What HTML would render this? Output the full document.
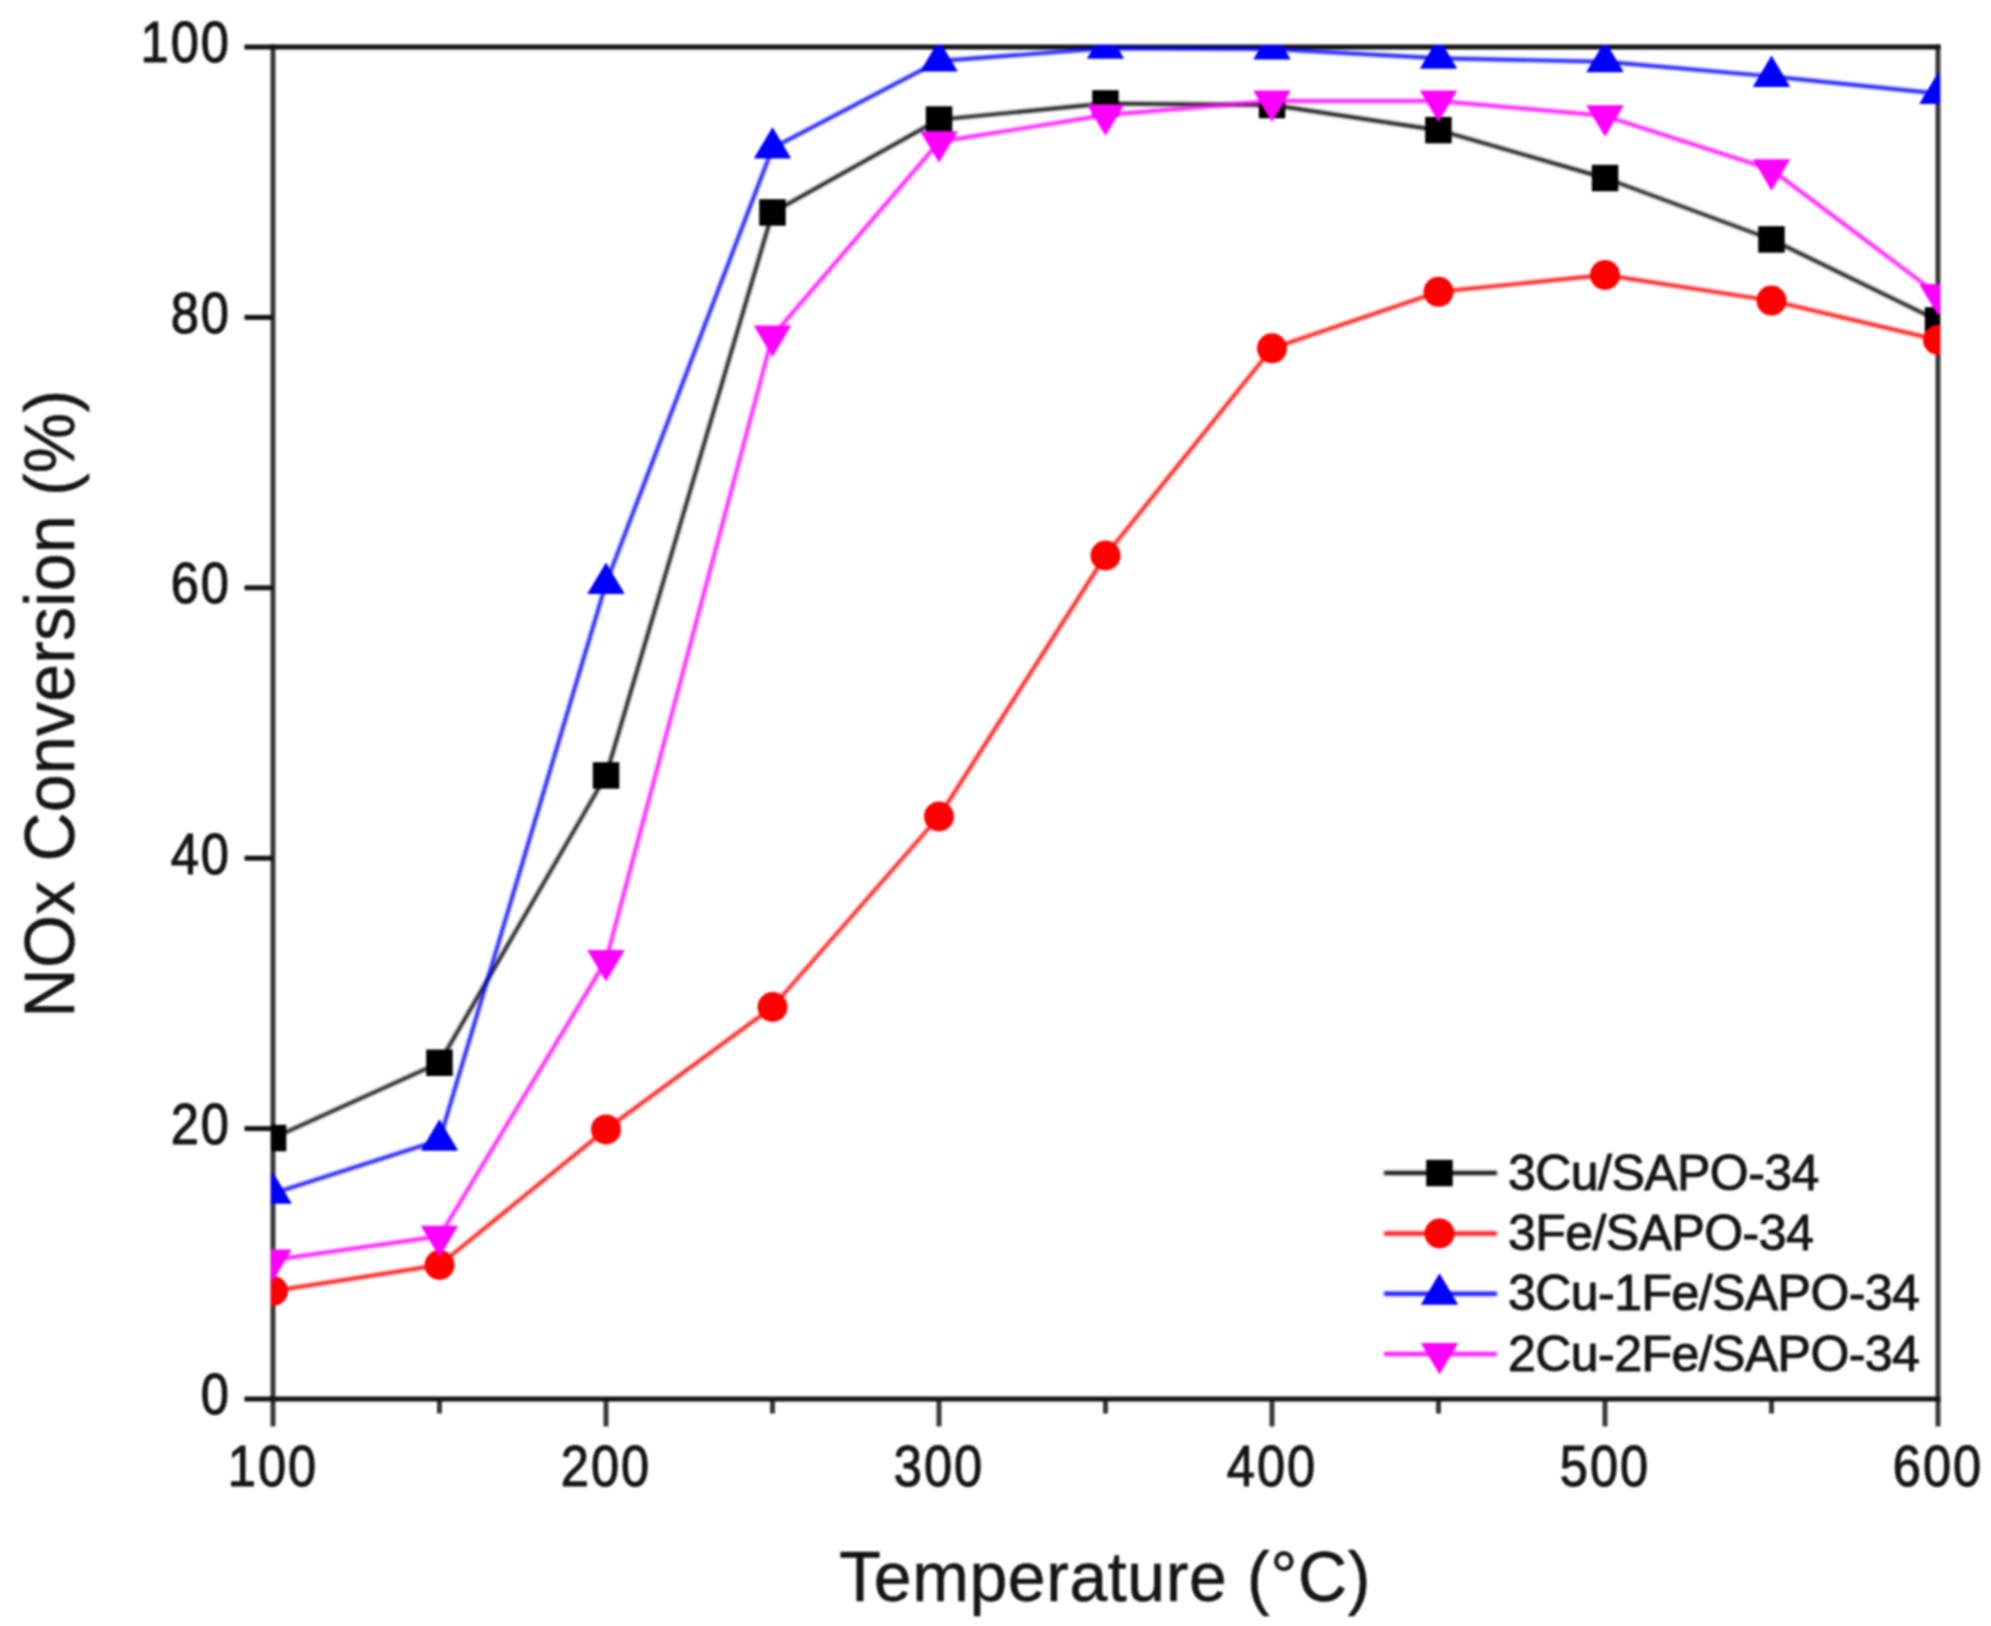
<!DOCTYPE html>
<html><head><meta charset="utf-8"><title>NOx Conversion vs Temperature</title>
<style>
html,body{margin:0;padding:0;background:#fff;}
svg{display:block;filter:blur(0.8px);}
</style></head>
<body>
<svg width="1991" height="1626" viewBox="0 0 1991 1626">
<rect width="1991" height="1626" fill="#fff"/>
<defs><clipPath id="pc"><rect x="271" y="45" width="1669" height="1356"/></clipPath><filter id="lb" filterUnits="userSpaceOnUse" x="0" y="0" width="1991" height="1626"><feGaussianBlur stdDeviation="1.0"/></filter></defs>
<g stroke="#383838" stroke-width="5" fill="none">
<line x1="273" y1="44.5" x2="273" y2="1401.5"/>
<line x1="1938" y1="44.5" x2="1938" y2="1401.5"/>
<line x1="273.0" y1="1399" x2="273.0" y2="1426.5"/>
<line x1="606.0" y1="1399" x2="606.0" y2="1426.5"/>
<line x1="939.0" y1="1399" x2="939.0" y2="1426.5"/>
<line x1="1272.0" y1="1399" x2="1272.0" y2="1426.5"/>
<line x1="1605.0" y1="1399" x2="1605.0" y2="1426.5"/>
<line x1="1938.0" y1="1399" x2="1938.0" y2="1426.5"/>
<line x1="439.5" y1="1399" x2="439.5" y2="1413.5"/>
<line x1="772.5" y1="1399" x2="772.5" y2="1413.5"/>
<line x1="1105.5" y1="1399" x2="1105.5" y2="1413.5"/>
<line x1="1438.5" y1="1399" x2="1438.5" y2="1413.5"/>
<line x1="1771.5" y1="1399" x2="1771.5" y2="1413.5"/>
</g>
<g stroke="#141414" stroke-width="5" fill="none">
<line x1="270.5" y1="47" x2="1940.5" y2="47"/>
<line x1="270.5" y1="1399" x2="1940.5" y2="1399"/>
<line x1="244.5" y1="1399.0" x2="273" y2="1399.0"/>
<line x1="244.5" y1="1128.6" x2="273" y2="1128.6"/>
<line x1="244.5" y1="858.2" x2="273" y2="858.2"/>
<line x1="244.5" y1="587.8" x2="273" y2="587.8"/>
<line x1="244.5" y1="317.4" x2="273" y2="317.4"/>
<line x1="244.5" y1="47.0" x2="273" y2="47.0"/>
</g>
<g clip-path="url(#pc)">
<path d="M273.0,1138.0 L439.5,1062.7 L606.0,775.5 L772.5,212.4 L939.0,119.6 L1105.5,103.5 L1272.0,105.0 L1438.5,130.2 L1605.0,178.0 L1771.5,239.5 L1938.0,320.5" fill="none" stroke="#000000" stroke-width="3.4" stroke-linejoin="round" filter="url(#lb)"/>
<g fill="#000000"><rect x="259.8" y="1124.8" width="26.5" height="26.5"/><rect x="426.2" y="1049.5" width="26.5" height="26.5"/><rect x="592.8" y="762.2" width="26.5" height="26.5"/><rect x="759.2" y="199.2" width="26.5" height="26.5"/><rect x="925.8" y="106.3" width="26.5" height="26.5"/><rect x="1092.2" y="90.2" width="26.5" height="26.5"/><rect x="1258.8" y="91.8" width="26.5" height="26.5"/><rect x="1425.2" y="116.9" width="26.5" height="26.5"/><rect x="1591.8" y="164.8" width="26.5" height="26.5"/><rect x="1758.2" y="226.2" width="26.5" height="26.5"/><rect x="1924.8" y="307.2" width="26.5" height="26.5"/></g>
<path d="M273.0,1291.0 L439.5,1265.0 L606.0,1129.4 L772.5,1007.0 L939.0,816.5 L1105.5,555.5 L1272.0,348.3 L1438.5,291.8 L1605.0,275.0 L1771.5,300.6 L1938.0,340.0" fill="none" stroke="#ff0000" stroke-width="3.4" stroke-linejoin="round" filter="url(#lb)"/>
<g fill="#ff0000"><circle cx="273.0" cy="1291.0" r="15"/><circle cx="439.5" cy="1265.0" r="15"/><circle cx="606.0" cy="1129.4" r="15"/><circle cx="772.5" cy="1007.0" r="15"/><circle cx="939.0" cy="816.5" r="15"/><circle cx="1105.5" cy="555.5" r="15"/><circle cx="1272.0" cy="348.3" r="15"/><circle cx="1438.5" cy="291.8" r="15"/><circle cx="1605.0" cy="275.0" r="15"/><circle cx="1771.5" cy="300.6" r="15"/><circle cx="1938.0" cy="340.0" r="15"/></g>
<path d="M273.0,1193.3 L439.5,1140.2 L606.0,583.5 L772.5,148.0 L939.0,61.0 L1105.5,48.3 L1272.0,49.0 L1438.5,58.2 L1605.0,61.8 L1771.5,76.4 L1938.0,93.5" fill="none" stroke="#0000ff" stroke-width="3.4" stroke-linejoin="round" filter="url(#lb)"/>
<g fill="#0000ff"><polygon points="273.0,1172.3 291.8,1203.8 254.2,1203.8"/><polygon points="439.5,1119.2 458.2,1150.7 420.8,1150.7"/><polygon points="606.0,562.5 624.8,594.0 587.2,594.0"/><polygon points="772.5,127.0 791.2,158.5 753.8,158.5"/><polygon points="939.0,40.0 957.8,71.5 920.2,71.5"/><polygon points="1105.5,27.3 1124.2,58.8 1086.8,58.8"/><polygon points="1272.0,28.0 1290.8,59.5 1253.2,59.5"/><polygon points="1438.5,37.2 1457.2,68.7 1419.8,68.7"/><polygon points="1605.0,40.8 1623.8,72.3 1586.2,72.3"/><polygon points="1771.5,55.4 1790.2,86.9 1752.8,86.9"/><polygon points="1938.0,72.5 1956.8,104.0 1919.2,104.0"/></g>
<path d="M273.0,1260.0 L439.5,1236.3 L606.0,960.5 L772.5,336.1 L939.0,141.8 L1105.5,115.0 L1272.0,101.0 L1438.5,101.0 L1605.0,115.8 L1771.5,169.7 L1938.0,294.5" fill="none" stroke="#ff00ff" stroke-width="3.4" stroke-linejoin="round" filter="url(#lb)"/>
<g fill="#ff00ff"><polygon points="254.2,1249.5 291.8,1249.5 273.0,1281.0"/><polygon points="420.8,1225.8 458.2,1225.8 439.5,1257.3"/><polygon points="587.2,950.0 624.8,950.0 606.0,981.5"/><polygon points="753.8,325.6 791.2,325.6 772.5,357.1"/><polygon points="920.2,131.3 957.8,131.3 939.0,162.8"/><polygon points="1086.8,104.5 1124.2,104.5 1105.5,136.0"/><polygon points="1253.2,90.5 1290.8,90.5 1272.0,122.0"/><polygon points="1419.8,90.5 1457.2,90.5 1438.5,122.0"/><polygon points="1586.2,105.3 1623.8,105.3 1605.0,136.8"/><polygon points="1752.8,159.2 1790.2,159.2 1771.5,190.7"/><polygon points="1919.2,284.0 1956.8,284.0 1938.0,315.5"/></g>
</g>
<g font-family="'Liberation Sans', Arial, sans-serif" font-size="55" fill="#151515" stroke="#151515" stroke-width="1.1" letter-spacing="2.2">
<text transform="translate(231.0,1414.3) scale(0.92,1.03)" text-anchor="end">0</text>
<text transform="translate(231.0,1143.9) scale(0.92,1.03)" text-anchor="end">20</text>
<text transform="translate(231.0,873.5) scale(0.92,1.03)" text-anchor="end">40</text>
<text transform="translate(231.0,603.1) scale(0.92,1.03)" text-anchor="end">60</text>
<text transform="translate(231.0,332.7) scale(0.92,1.03)" text-anchor="end">80</text>
<text transform="translate(231.0,62.3) scale(0.92,1.03)" text-anchor="end">100</text>
<text transform="translate(273.0,1486.2) scale(0.92,1.03)" text-anchor="middle">100</text>
<text transform="translate(606.0,1486.2) scale(0.92,1.03)" text-anchor="middle">200</text>
<text transform="translate(939.0,1486.2) scale(0.92,1.03)" text-anchor="middle">300</text>
<text transform="translate(1272.0,1486.2) scale(0.92,1.03)" text-anchor="middle">400</text>
<text transform="translate(1605.0,1486.2) scale(0.92,1.03)" text-anchor="middle">500</text>
<text transform="translate(1938.0,1486.2) scale(0.92,1.03)" text-anchor="middle">600</text>
</g>
<text transform="translate(1105.0,1600.8) scale(1,1.03)" text-anchor="middle" font-family="'Liberation Sans', Arial, sans-serif" font-size="68" fill="#151515" stroke="#151515" stroke-width="0.5" letter-spacing="0.6">Temperature (°C)</text>
<text transform="translate(74,703.5) rotate(-90) scale(1,1.03)" text-anchor="middle" font-family="'Liberation Sans', Arial, sans-serif" font-size="68" fill="#151515" stroke="#151515" stroke-width="0.5" letter-spacing="0.25">NOx Conversion (%)</text>
<line x1="1384" y1="1173.0" x2="1497" y2="1173.0" stroke="#000000" stroke-width="4.0" filter="url(#lb)"/>
<g fill="#000000"><rect x="1426.2" y="1159.8" width="26.5" height="26.5"/></g>
<text x="1508" y="1189.5" font-family="'Liberation Sans', Arial, sans-serif" font-size="50" fill="#151515" stroke="#151515" stroke-width="1.0" letter-spacing="-0.55">3Cu/SAPO-34</text>
<line x1="1384" y1="1233.5" x2="1497" y2="1233.5" stroke="#ff0000" stroke-width="4.0" filter="url(#lb)"/>
<g fill="#ff0000"><circle cx="1439.5" cy="1233.5" r="15"/></g>
<text x="1508" y="1250" font-family="'Liberation Sans', Arial, sans-serif" font-size="50" fill="#151515" stroke="#151515" stroke-width="1.0" letter-spacing="-0.55">3Fe/SAPO-34</text>
<line x1="1384" y1="1293.8" x2="1497" y2="1293.8" stroke="#0000ff" stroke-width="4.0" filter="url(#lb)"/>
<g fill="#0000ff"><polygon points="1439.5,1273.3 1458.2,1304.8 1420.8,1304.8"/></g>
<text x="1508" y="1310.3" font-family="'Liberation Sans', Arial, sans-serif" font-size="50" fill="#151515" stroke="#151515" stroke-width="1.0" letter-spacing="-0.55">3Cu-1Fe/SAPO-34</text>
<line x1="1384" y1="1354.1" x2="1497" y2="1354.1" stroke="#ff00ff" stroke-width="4.0" filter="url(#lb)"/>
<g fill="#ff00ff"><polygon points="1420.8,1343.1 1458.2,1343.1 1439.5,1374.6"/></g>
<text x="1508" y="1370.6" font-family="'Liberation Sans', Arial, sans-serif" font-size="50" fill="#151515" stroke="#151515" stroke-width="1.0" letter-spacing="-0.55">2Cu-2Fe/SAPO-34</text>
</svg>
</body></html>
